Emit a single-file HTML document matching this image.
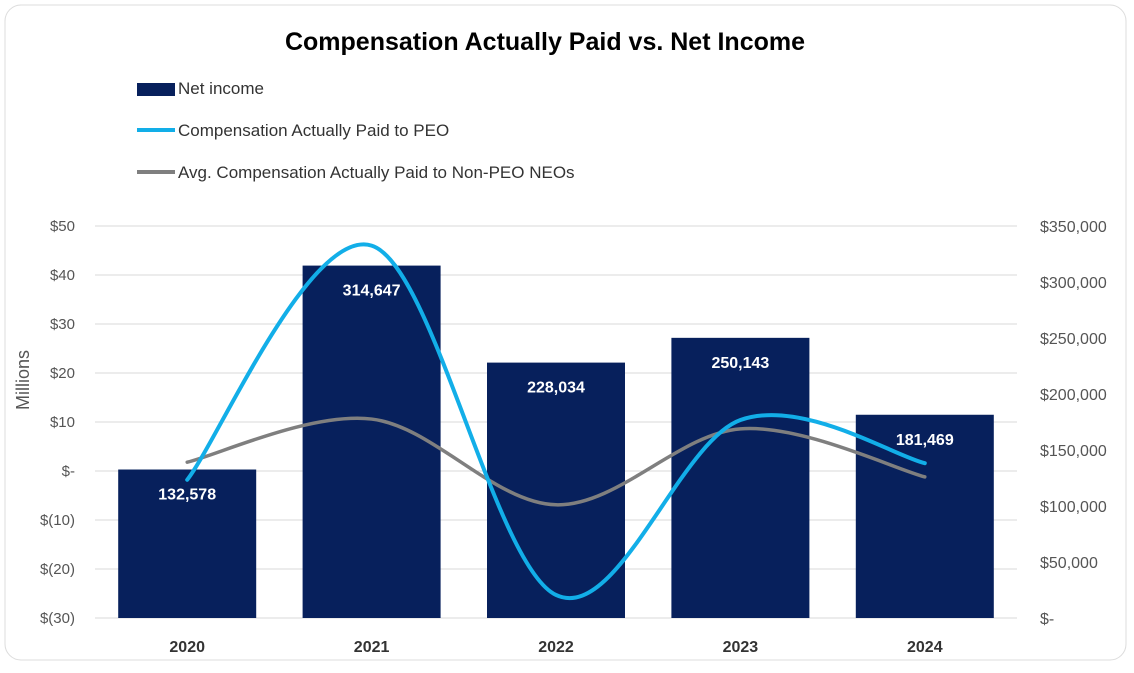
<!DOCTYPE html>
<html><head><meta charset="utf-8"><style>
body{margin:0;background:#fff;font-family:"Liberation Sans",sans-serif}
</style></head><body>
<svg id="c" width="1134" height="668" xmlns="http://www.w3.org/2000/svg">
<rect x="5" y="5" width="1121" height="655" rx="16" fill="#fff" stroke="#dcdcdc"/>
<text x="545" y="50" text-anchor="middle" font-size="25" font-weight="bold" fill="#000">Compensation Actually Paid vs. Net Income</text>
<g>
<rect x="137" y="83" width="38" height="13" fill="#07205c"/>
<text x="178" y="94" font-size="17" fill="#333">Net income</text>
<line x1="137" y1="130" x2="175" y2="130" stroke="#12aee8" stroke-width="4"/>
<text x="178" y="136" font-size="17" fill="#333">Compensation Actually Paid to PEO</text>
<line x1="137" y1="172" x2="175" y2="172" stroke="#7f7f7f" stroke-width="4"/>
<text x="178" y="178" font-size="17" fill="#333">Avg. Compensation Actually Paid to Non-PEO NEOs</text>
</g>
<text transform="translate(29,380) rotate(-90)" text-anchor="middle" font-size="18" fill="#555">Millions</text>
<g id="grid"></g><g id="bars"></g><g id="lines"></g><g id="labels"></g>
</svg>
<script>
const years=["2020","2021","2022","2023","2024"];
const netIncome=[132578,314647,228034,250143,181469];
const peo=[-1.8,46,-25.3,10.4,1.6];
const neo=[1.8,10.6,-6.9,8.6,-1.2];
const leftTicks=["$(30)","$(20)","$(10)","$-","$10","$20","$30","$40","$50"];
const rightTicks=["$-","$50,000","$100,000","$150,000","$200,000","$250,000","$300,000","$350,000"];
const NS="http://www.w3.org/2000/svg";
const X0=95,X1=1017,Y0=618,Y1=226;
const bw=(X1-X0)/years.length;
const xc=i=>X0+bw*(i+0.5);
const yL=v=>Y0-(v+30)/80*(Y0-Y1);
const yR=v=>Y0-v/350000*(Y0-Y1);
function mk(t,a,p){const e=document.createElementNS(NS,t);for(const k in a)e.setAttribute(k,a[k]);p.appendChild(e);return e;}
const g=document.getElementById('grid');
leftTicks.forEach((t,i)=>{const y=Y0-i*(Y0-Y1)/8;
 const l=mk('line',{x1:X0,x2:X1,y1:y,y2:y,stroke:'#d9d9d9','stroke-width':1},g);
 
 
 const tx=mk('text',{x:75,y:y+5,'text-anchor':'end','font-size':15,fill:'#555'},g);tx.textContent=t;
 
 });
rightTicks.forEach((t,i)=>{const y=Y0-i*(Y0-Y1)/7;
 const tx=mk('text',{x:1040,y:y+6,'font-size':16,fill:'#555'},g);tx.textContent=t;
 
 });
const b=document.getElementById('bars'),lb=document.getElementById('labels');
years.forEach((yr,i)=>{const top=yR(netIncome[i]);
 const r=mk('rect',{x:xc(i)-69,y:top,width:138,height:Y0-top,fill:'#07205c'},b);
 
 
 const t=mk('text',{x:xc(i),y:top+30,'text-anchor':'middle','font-size':16,'font-weight':'bold',fill:'#fff'},lb);
 t.textContent=netIncome[i].toLocaleString('en-US');
 
 
 const x=mk('text',{x:xc(i),y:652,'text-anchor':'middle','font-size':16,'font-weight':'bold',fill:'#333'},lb);x.textContent=yr;
 
 });
function smooth(pts){let d='M'+pts[0][0]+','+pts[0][1];
 for(let i=0;i<pts.length-1;i++){const p0=pts[i-1]||pts[i],p1=pts[i],p2=pts[i+1],p3=pts[i+2]||p2;
  const c1=[p1[0]+(p2[0]-p0[0])/6,p1[1]+(p2[1]-p0[1])/6],c2=[p2[0]-(p3[0]-p1[0])/6,p2[1]-(p3[1]-p1[1])/6];
  d+=' C'+c1+' '+c2+' '+p2;}return d;}
const L=document.getElementById('lines');
const n=mk('path',{d:smooth(neo.map((v,i)=>[xc(i),yL(v)])),fill:'none',stroke:'#7f7f7f','stroke-width':3.5,'stroke-linecap':'round'},L);


const p=mk('path',{d:smooth(peo.map((v,i)=>[xc(i),yL(v)])),fill:'none',stroke:'#12aee8','stroke-width':4,'stroke-linecap':'round'},L);


</script>
</body></html>
